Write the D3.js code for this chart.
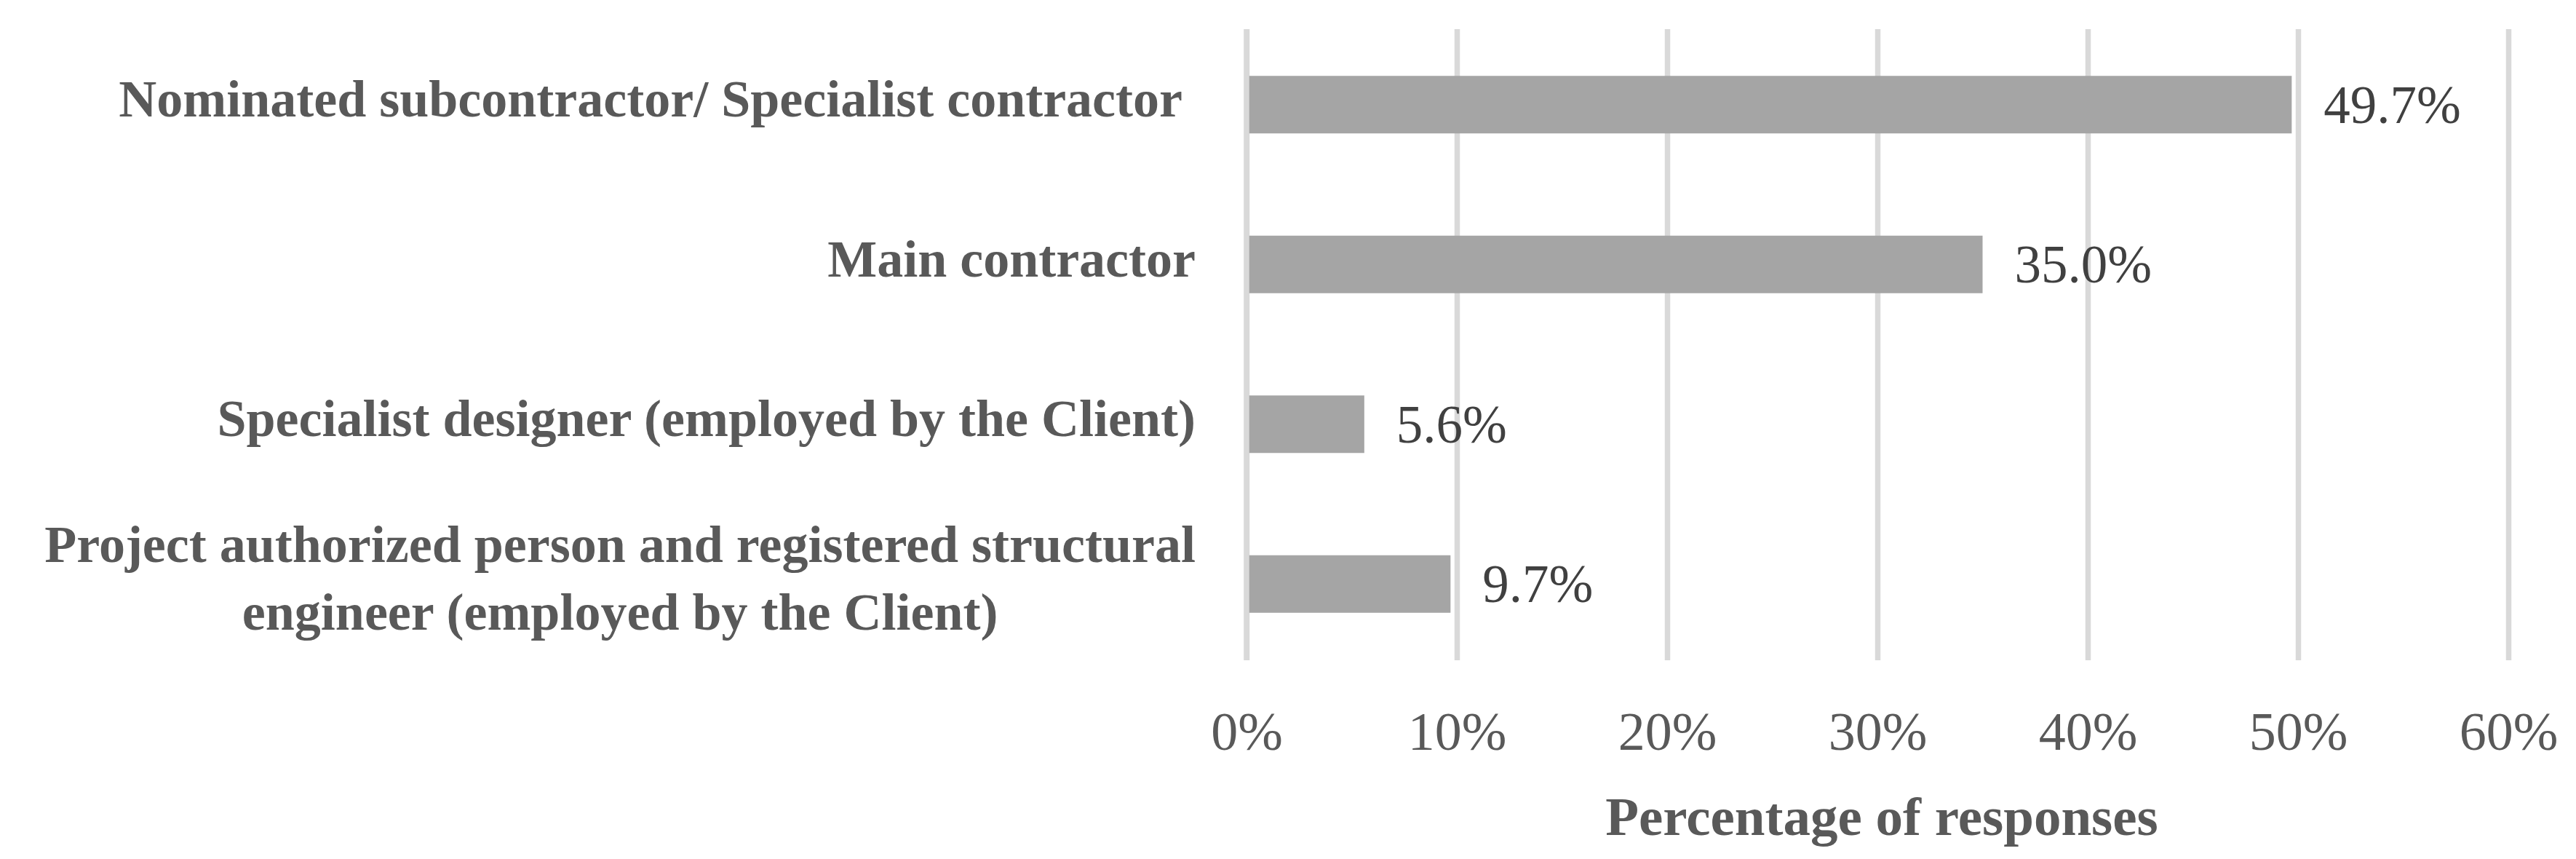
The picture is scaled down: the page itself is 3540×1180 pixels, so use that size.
<!DOCTYPE html>
<html>
<head>
<meta charset="utf-8">
<script src="https://cdn.jsdelivr.net/npm/d3@7"></script>
<style>
  html, body { margin: 0; padding: 0; background: #ffffff; }
  svg { display: block; }
  text { font-family: "Palatino Linotype", "Book Antiqua", Palatino, "Liberation Serif", serif; }
</style>
</head>
<body>
<svg id="chart" width="3540" height="1180"></svg>
<script>
// ---- data ----
const categories = [
  ["Nominated subcontractor/ Specialist contractor\u00a0"],
  ["Main contractor"],
  ["Specialist designer (employed by the Client)"],
  ["Project authorized person and registered structural", "engineer (employed by the Client)"]
];
const values = [49.7, 35.0, 5.6, 9.7];
const tickValues = [0, 10, 20, 30, 40, 50, 60];
const tickLabels = ["0%", "10%", "20%", "30%", "40%", "50%", "60%"];
const axisTitle = "Percentage of responses";

// ---- layout ----
const svg = d3.select("#chart");
const x = d3.scaleLinear().domain([0, 60]).range([1713, 3447]);
const y = d3.scaleBand().domain(d3.range(categories.length)).range([34, 912])
  .paddingInner(0.64).paddingOuter(0.32);
const gridTop = 40, gridBottom = 907;
const gridColor = "#d9d9d9";

// gridlines + tick labels
const gAxis = svg.append("g")
  .attr("transform", `translate(0,${gridBottom})`)
  .call(d3.axisBottom(x).tickValues(tickValues)
    .tickSize(-(gridBottom - gridTop))
    .tickFormat((d, i) => tickLabels[i]));
gAxis.select(".domain").remove();
gAxis.selectAll(".tick line").attr("stroke", gridColor).attr("stroke-width", 7.5);
gAxis.selectAll(".tick text")
  .attr("y", 0).attr("dy", 0)
  .attr("transform", "translate(0,123)")
  .attr("fill", "#595959")
  .attr("font-size", 74)
  .attr("font-family", "\"Palatino Linotype\", \"Book Antiqua\", Palatino, \"Liberation Serif\", serif");

// bars
svg.append("g").selectAll("rect").data(values).join("rect")
  .attr("x", x(0))
  .attr("y", (d, i) => y(i))
  .attr("width", d => x(d) - x(0))
  .attr("height", y.bandwidth())
  .attr("fill", "#a5a5a5");

// zero line on top of bars
svg.append("line")
  .attr("x1", x(0)).attr("x2", x(0))
  .attr("y1", gridTop).attr("y2", gridBottom)
  .attr("stroke", gridColor).attr("stroke-width", 7.5);

// data labels
svg.append("g").selectAll("text").data(values).join("text")
  .attr("x", d => x(d) + 44)
  .attr("y", (d, i) => y(i) + y.bandwidth() / 2 + 25)
  .attr("fill", "#404040")
  .attr("font-size", 73)
  .text(d => d.toFixed(1) + "%");

// category labels
const labelRight = 1643;
const lineH = 93;
categories.forEach((lines, i) => {
  const cy = y(i) + y.bandwidth() / 2;
  const n = lines.length;
  const g = svg.append("g");
  const first = g.append("text")
    .attr("x", labelRight)
    .attr("y", cy + 16.5 - (n - 1) * lineH / 2)
    .attr("text-anchor", "end")
    .attr("fill", "#595959")
    .attr("font-size", 72)
    .attr("font-weight", "bold")
    .text(lines[0]);
  const w0 = first.node().getComputedTextLength();
  for (let k = 1; k < n; k++) {
    g.append("text")
      .attr("x", labelRight - w0 / 2)
      .attr("y", cy + 16.5 - (n - 1) * lineH / 2 + k * lineH)
      .attr("text-anchor", "middle")
      .attr("fill", "#595959")
      .attr("font-size", 72)
      .attr("font-weight", "bold")
      .text(lines[k]);
  }
});

// axis title
svg.append("text")
  .attr("x", (x.range()[0] + x.range()[1]) / 2 + 6)
  .attr("y", 1147)
  .attr("text-anchor", "middle")
  .attr("fill", "#595959")
  .attr("font-size", 75)
  .attr("font-weight", "bold")
  .text(axisTitle);
</script>
</body>
</html>
